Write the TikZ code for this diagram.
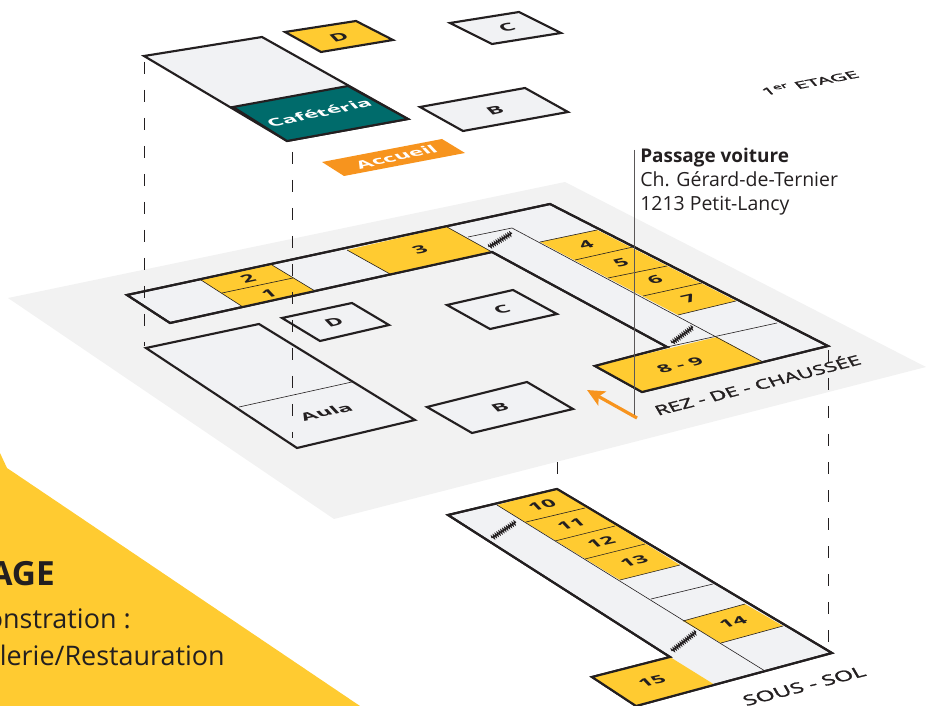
\documentclass[tikz,border=0pt]{standalone}
\usepackage{fontspec}
\setmainfont{Open Sans}
\usetikzlibrary{arrows.meta,decorations.pathmorphing}
\definecolor{planink}{HTML}{231F20}
\definecolor{planfloor}{HTML}{F2F2F2}
\definecolor{planroom}{HTML}{F1F2F4}
\definecolor{planyellow}{HTML}{FFCB31}
\definecolor{planteal}{HTML}{006B6B}
\definecolor{planorange}{HTML}{F7941E}
\tikzset{
  wall/.style={draw=planink,line width=1.6pt,line join=miter,fill=planroom},
  shop/.style={draw=planink,line width=1.6pt,line join=miter,fill=planyellow},
  thin/.style={draw=planink,line width=0.45pt},
  riser/.style={dash pattern=on 9pt off 12pt,draw=planink,line width=0.55pt},
  stairs/.style={draw=planink,line width=0.8pt,decorate,decoration={zigzag,amplitude=1.3pt,segment length=1.7pt}},
  flat/.style={cm={1.33,0.29,-0.55,0.58,(0,0)},inner sep=0pt,text=planink,font=\bfseries\fontsize{12.5}{12.5}\selectfont},
  flatwhite/.style={flat,text=white},
  floorname/.style={cm={1.22,0.31,-0.42,0.72,(0,0)},inner sep=0pt,text=planink,font=\fontsize{13}{13}\selectfont\addfontfeature{FakeBold=1.5}},
  sidetext/.style={anchor=base west,text=planink,font=\fontsize{14.6}{14.6}\selectfont,inner sep=0pt},
  cornertext/.style={anchor=base east,text=planink,font=\fontsize{20.2}{20.2}\selectfont,inner sep=0pt},
}
\begin{document}
\begin{tikzpicture}[x=0.75pt,y=-0.75pt]
            \useasboundingbox (0,0) rectangle (926,706);
            \clip (0,0) rectangle (926,706);
            % ground plane and corner
            \fill [planfloor] (8,298)--(565,182)--(926,367)--(334,519)--cycle;
            \fill [planyellow] (0,453)--(7,468)--(360,706)--(0,706)--cycle;
            \node (title) [cornertext,font=\bfseries\fontsize{25}{25}\selectfont] at (55,585){AGE};
            \node (demo) [cornertext] at (131,628){onstration :};
            \node (resto) [cornertext] at (225,665){lerie/Restauration};
            % first floor
            \filldraw [wall] (144,56)--(262,37)--(408,119)--(287,141)--cycle;
            \filldraw [wall,fill=planteal] (233,107)--(348,86)--(408,119)--(287,141)--cycle;
            \filldraw [shop] (285,32)--(356,21)--(393,40)--(321,52)--cycle;
            \filldraw [wall] (450,23)--(519,12)--(561,33)--(492,44)--cycle;
            \filldraw [wall] (420,107)--(525,88)--(568,112)--(463,131)--cycle;
            \fill [planorange] (322,162)--(442,139)--(465,153)--(344,176)--cycle;
            \node (cafe) [flatwhite] at (319,113){Cafétéria};
            \node (acc) [flatwhite] at (396,157){Accueil};
            \node (d1) [flat] at (339,37){D};
            \node (c1) [flat] at (507,28){C};
            \node (b1) [flat] at (495,110){B};
            \node (first) [cm={1.44,0.28,-0.55,0.62,(0,0)},inner sep=0pt,text=planink,font=\fontsize{11}{11}\selectfont\addfontfeature{FakeBold=1.5}] at (810,83){1\textsuperscript{er} ETAGE};
            % corridor of the ground floor
            \filldraw [wall] (127,295)--(550,204)--(828,346)--(642,392)--(595,366)--(667,347)--(492,252)--(170,323)--cycle;
            \fill [planyellow] (201,280)--(272,265)--(315,291)--(243,307)--cycle;
            \fill [planyellow] (347,250)--(447,227)--(492,252)--(390,274)--cycle;
            \fill [planyellow] (540,242)--(597,230)--(736,301)--(678,315)--cycle;
            \fill [planyellow] (595,366)--(717,337)--(763,362)--(642,392)--cycle;
            \draw [thin] (201,280)--(243,307);
            \draw [thin] (272,265)--(315,291);
            \draw [thin] (222,293)--(293,278);
            \draw [thin] (347,250)--(390,274);
            \draw [thin] (447,227)--(492,252);
            \draw [thin] (468,237)--(512,228)--(763,362);
            \draw [thin] (540,242)--(597,230);
            \draw [thin] (575,260)--(633,247);
            \draw [thin] (608,278)--(667,266);
            \draw [thin] (643,296)--(702,283);
            \draw [thin] (678,315)--(736,301);
            \draw [thin] (667,347)--(777,323);
            \draw [wall,fill=none] (127,295)--(550,204)--(828,346)--(642,392)--(595,366)--(667,347)--(492,252)--(170,323)--cycle;
            \draw [stairs] (489,247)--(512,233);
            \draw [stairs] (672,343)--(693,327);
            \node (two) [flat] at (248,279){2};
            \node (one) [flat] at (269,294){1};
            \node (three) [flat] at (420,250){3};
            \node (four) [flat] at (586,245){4};
            \node (five) [flat] at (621,263){5};
            \node (six) [flat] at (655,280){6};
            \node (seven) [flat] at (689,299){7};
            \node (eight) [flat] at (680,365){8 - 9};
            % rooms of the ground floor
            \filldraw [wall] (282,318)--(352,303)--(389,325)--(320,341)--cycle;
            \filldraw [wall] (447,305)--(513,290)--(557,314)--(490,329)--cycle;
            \filldraw [wall] (427,407)--(527,382)--(573,409)--(472,433)--cycle;
            \filldraw [wall] (146,348)--(259,324)--(415,420)--(297,448)--cycle;
            \draw [thin] (239,407)--(352,382);
            \node (d0) [flat] at (334,322){D};
            \node (c0) [flat] at (502,310){C};
            \node (b0) [flat] at (500,407){B};
            \node (aula) [flat] at (326,412){Aula};
            \node (rez) [floorname] at (757,384){REZ - DE - CHAUSSÉE};
            % basement
            \filldraw [wall] (448,515)--(557,489)--(832,653)--(636,706)--(592,677)--(670,657)--cycle;
            \fill [planyellow] (497,505)--(557,489)--(680,565)--(620,580)--cycle;
            \fill [planyellow] (683,621)--(745,604)--(783,626)--(721,643)--cycle;
            \fill [planyellow] (592,677)--(670,657)--(715,685)--(636,706)--cycle;
            \draw [thin] (497,505)--(765,671);
            \draw [thin] (526,522)--(585,508);
            \draw [thin] (555,541)--(615,526);
            \draw [thin] (585,559)--(645,544);
            \draw [thin] (620,580)--(680,565);
            \draw [thin] (651,599)--(713,584);
            \draw [thin] (683,621)--(745,604);
            \draw [thin] (721,643)--(783,626);
            \draw [wall,fill=none] (448,515)--(557,489)--(832,653)--(636,706)--(592,677)--(670,657)--cycle;
            \draw [stairs] (492,538)--(516,522);
            \draw [stairs] (672,651)--(696,632);
            \node (ten) [flat] at (542,505){10};
            \node (eleven) [flat] at (571,524){11};
            \node (twelve) [flat] at (601,542){12};
            \node (thirteen) [flat] at (634,561){13};
            \node (fourteen) [flat] at (733,622){14};
            \node (fifteen) [flat] at (652,681){15};
            \node (sous) [floorname,font=\fontsize{14}{14}\selectfont\addfontfeature{FakeBold=1.5}] at (804,686){SOUS - SOL};
            % links between the levels
            \draw [riser] (144,62)--(144,346);
            \draw [riser] (292,152)--(292,438);
            \draw [riser] (557,462)--(557,489);
            \draw [riser] (828,350)--(828,645);
            \draw [draw=planink!75,line width=0.8pt] (634.5,150)--(634.5,418);
            \draw [planorange,line width=2.4pt,-{Stealth[length=13pt,width=12pt,inset=3pt]}] (637,418)--(587,390);
            \node (pass) [sidetext,font=\bfseries\fontsize{14.2}{14.2}\selectfont] at (640,163){Passage voiture};
            \node (rue) [sidetext] at (640,187){Ch. Gérard-de-Ternier};
            \node (lieu) [sidetext] at (640,211){1213 Petit-Lancy};
        \end{tikzpicture}
\end{document}
